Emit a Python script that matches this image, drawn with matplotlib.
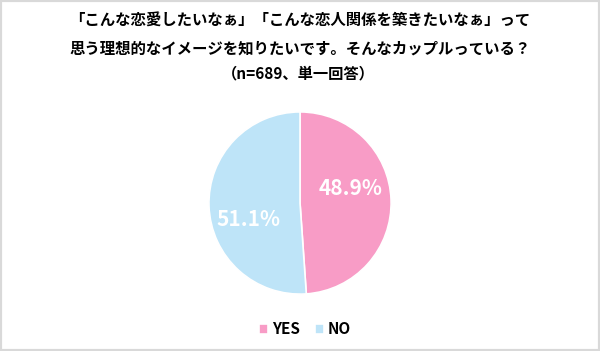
import matplotlib.pyplot as plt
from matplotlib.patches import Rectangle

plt.rcParams['font.family'] = ['Noto Sans CJK JP', 'DejaVu Sans']

labels = ['YES', 'NO']
values = [48.9, 51.1]
colors = ['#F89CC6', '#BEE4F8']
title_lines = ['「こんな恋愛したいなぁ」「こんな恋人関係を築きたいなぁ」って',
               '思う理想的なイメージを知りたいです。そんなカップルっている？']
subtitle = '（n=689、単一回答）'

fig = plt.figure(figsize=(6.0, 3.51), dpi=100)
fig.patch.set_facecolor('white')

# outer light gray frame
fig.add_artist(Rectangle((0, 0), 1, 1, transform=fig.transFigure, fill=False,
                         edgecolor='#D9D9D9', linewidth=3))

fig.text(0.5, 0.945, title_lines[0], ha='center', va='center', fontsize=11.1, fontweight='bold')
fig.text(0.5, 0.862, title_lines[1], ha='center', va='center', fontsize=11.1, fontweight='bold')
fig.text(0.497, 0.792, subtitle, ha='center', va='center', fontsize=11, fontweight='bold')

ax = fig.add_axes([0.3467, 0.1595, 0.3067, 0.5242])
wedges, texts = ax.pie(values, colors=colors, startangle=90, counterclock=False,
                       wedgeprops=dict(edgecolor='white', linewidth=1.2))
ax.set_xlim(-1.01, 1.01)
ax.set_ylim(-1.01, 1.01)
ax.set_aspect('equal')

ax.text(0.56, 0.154, '48.9%', ha='center', va='center', color='white',
        fontsize=15, fontweight='bold')
ax.text(-0.57, -0.176, '51.1%', ha='center', va='center', color='white',
        fontsize=15, fontweight='bold')

leg = fig.legend(wedges, labels, loc='center', bbox_to_anchor=(0.508, 0.062), ncol=2,
                 frameon=False, handlelength=0.6, handleheight=0.6, handletextpad=0.25,
                 columnspacing=1.0, prop={'size': 11, 'weight': 'bold'})

fig.savefig('out.png', dpi=100)
